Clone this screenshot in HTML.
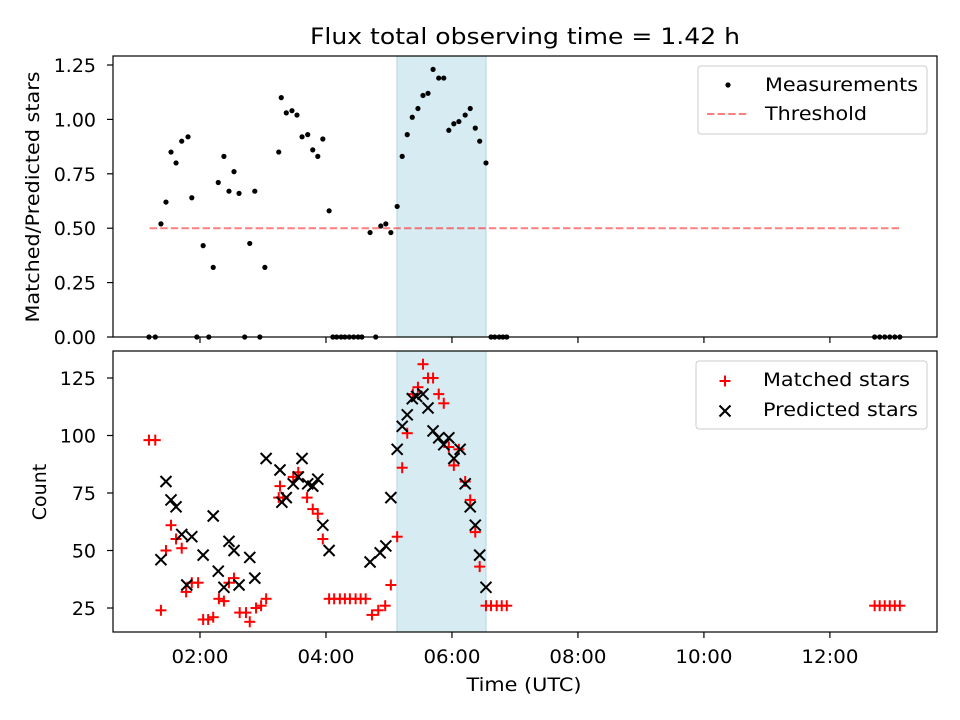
<!DOCTYPE html>
<html><head><meta charset="utf-8"><style>
html,body{margin:0;padding:0;background:#fff;}
svg{display:block;font-family:"DejaVu Sans","Liberation Sans",sans-serif;}
</style></head><body>
<svg id="chart" width="960" height="720" viewBox="0 0 960 720"></svg>
<script>
// ---- data (time in hours UTC) ----
const measTimes=[1.19,1.29,1.38,1.46,1.54,1.62,1.71,1.81,1.87,1.95,2.05,2.14,2.21,2.29,2.38,2.46,2.54,2.62,2.71,2.79,2.87,2.95,3.03,3.25,3.29,3.37,3.46,3.54,3.62,3.71,3.79,3.87,3.95,4.05,4.11,4.17,4.24,4.30,4.37,4.44,4.51,4.57,4.70,4.79,4.87,4.95,5.03,5.13,5.21,5.29,5.37,5.46,5.54,5.62,5.70,5.79,5.87,5.95,6.03,6.11,6.21,6.29,6.37,6.44,6.54,6.62,6.68,6.75,6.81,6.87,12.71,12.79,12.87,12.95,13.03,13.11];
const measRatios=[0,0,0.52,0.62,0.85,0.80,0.90,0.92,0.64,0,0.42,0,0.32,0.71,0.83,0.67,0.76,0.66,0,0.43,0.67,0,0.32,0.85,1.10,1.03,1.04,1.02,0.92,0.93,0.86,0.83,0.91,0.58,0,0,0,0,0,0,0,0,0.48,0,0.51,0.52,0.48,0.60,0.83,0.93,1.01,1.05,1.11,1.12,1.23,1.19,1.19,0.95,0.98,0.99,1.02,1.05,0.96,0.90,0.80,0,0,0,0,0,0,0,0,0,0,0];
const thresholdValue=0.5;
const thresholdRange=[1.2,13.13];
const matchedTimes=[1.19,1.29,1.38,1.46,1.54,1.62,1.71,1.78,1.87,1.97,2.05,2.13,2.21,2.30,2.38,2.46,2.54,2.63,2.73,2.79,2.89,2.97,3.05,3.25,3.27,3.32,3.48,3.56,3.70,3.79,3.87,3.95,4.05,4.13,4.22,4.30,4.38,4.47,4.55,4.63,4.73,4.83,4.94,5.03,5.13,5.21,5.29,5.38,5.46,5.54,5.62,5.70,5.79,5.87,5.95,6.03,6.11,6.21,6.29,6.37,6.44,6.54,6.62,6.71,6.79,6.87,12.71,12.79,12.87,12.95,13.03,13.11];
const matchedCounts=[98,98,24,50,61,55,51,32,36,36,20,20,21,29,28,36,38,23,23,19,25,26,29,73,78,73,82,84,73,68,66,55,29,29,29,29,29,29,29,29,22,24,26,35,56,86,101,118,121,131,125,125,118,114,95,87,94,80,72,58,43,26,26,26,26,26,26,26,26,26,26,26];
const predTimes=[1.38,1.46,1.54,1.62,1.71,1.79,1.87,2.05,2.21,2.29,2.38,2.46,2.54,2.62,2.79,2.87,3.05,3.27,3.30,3.37,3.48,3.56,3.62,3.71,3.79,3.87,3.95,4.05,4.70,4.86,4.95,5.03,5.13,5.21,5.29,5.37,5.44,5.54,5.62,5.70,5.79,5.87,5.95,6.03,6.13,6.21,6.29,6.37,6.44,6.54];
const predCounts=[46,80,72,69,57,35,56,48,65,41,34,54,50,35,47,38,90,85,71,73,79,82,90,79,78,81,61,50,45,49,52,73,94,104,109,116,117,118,112,102,99,96,99,90,94,79,69,61,48,34];
const spanRange=[5.127,6.54];
const xTickHours=[2,4,6,8,10,12];
const xTickLabels=["02:00","04:00","06:00","08:00","10:00","12:00"];
const topTicks=[0,0.25,0.5,0.75,1.0,1.25];
const topTickLabels=["0.00","0.25","0.50","0.75","1.00","1.25"];
const botTicks=[25,50,75,100,125];
const botTickLabels=["25","50","75","100","125"];

const NS="http://www.w3.org/2000/svg";
const svg=document.getElementById('chart');
function mk(tag,attrs,parent){const e=document.createElementNS(NS,tag);for(const k in attrs)e.setAttribute(k,attrs[k]);(parent||svg).appendChild(e);return e;}

const L=113,R=937,T1=56,B1=337,T2=351,B2=632;
const X0=0.619,X1=13.70;
function xs(h){return L+(h-X0)/(X1-X0)*(R-L);}
function yTop(v){return B1-(v-0)/(1.2914-0)*(B1-T1);}
function yBot(v){return B2-(v-14.57)/(136.74-14.57)*(B2-T2);}

function plus(cx,cy,s,col,parent,name){const g=mk('g',{},parent);


mk('line',{x1:cx-s,y1:cy,x2:cx+s,y2:cy,stroke:col,'stroke-width':2},g);
mk('line',{x1:cx,y1:cy-s,x2:cx,y2:cy+s,stroke:col,'stroke-width':2},g);return g;}
function cross(cx,cy,s,col,parent,name){const g=mk('g',{},parent);


mk('line',{x1:cx-s,y1:cy-s,x2:cx+s,y2:cy+s,stroke:col,'stroke-width':2},g);
mk('line',{x1:cx-s,y1:cy+s,x2:cx+s,y2:cy-s,stroke:col,'stroke-width':2},g);return g;}

// title
const title=mk('text',{x:525,y:44,'text-anchor':'middle','font-size':22,fill:'#000',textLength:430,lengthAdjust:'spacingAndGlyphs'});
title.textContent='Flux total observing time = 1.42 h';



function panel(T,B,name){
  const g=mk('g',{});
  
  
  const sp=mk('rect',{x:xs(spanRange[0]),y:T,width:xs(spanRange[1])-xs(spanRange[0]),height:B-T,fill:'#add8e6','fill-opacity':0.5,stroke:'#add8e6','stroke-width':1},g);
  
  
  return g;
}
// ---- top panel ----
const gTop=panel(T1,B1,'ratio-panel');
const th=mk('line',{x1:xs(thresholdRange[0]),x2:xs(thresholdRange[1]),y1:yTop(thresholdValue),y2:yTop(thresholdValue),stroke:'#ff0000','stroke-opacity':0.5,'stroke-width':2,'stroke-dasharray':'7.4,3.2'},gTop);


measTimes.forEach((t,i)=>{const c=mk('circle',{cx:xs(t),cy:yTop(measRatios[i]),r:2.6,fill:'#000'},gTop);

});

// ---- bottom panel ----
const gBot=panel(T2,B2,'count-panel');
matchedTimes.forEach((t,i)=>{plus(xs(t),yBot(matchedCounts[i]),5.5,'#ff0000',gBot,'matched-point');});
predTimes.forEach((t,i)=>{cross(xs(t),yBot(predCounts[i]),5.5,'#000',gBot,'predicted-point');});

// frames and axes
[[T1,B1,'ratio-axes-frame'],[T2,B2,'count-axes-frame']].forEach(([T,B,n])=>{
  const r=mk('rect',{x:L,y:T,width:R-L,height:B-T,fill:'none',stroke:'#000','stroke-width':1.2});
  
  
  xTickHours.forEach(h=>{mk('line',{x1:xs(h),x2:xs(h),y1:B,y2:B+6,stroke:'#000','stroke-width':1.2});});
});
xTickHours.forEach((h,i)=>{const t=mk('text',{x:xs(h),y:663,'text-anchor':'middle','font-size':19,textLength:57,lengthAdjust:'spacingAndGlyphs'});t.textContent=xTickLabels[i];

});
topTicks.forEach((v,i)=>{mk('line',{x1:L-6,x2:L,y1:yTop(v),y2:yTop(v),stroke:'#000','stroke-width':1.2});
const t=mk('text',{x:L-17,y:yTop(v)+7,'text-anchor':'end','font-size':19});t.textContent=topTickLabels[i];

});
botTicks.forEach((v,i)=>{mk('line',{x1:L-6,x2:L,y1:yBot(v),y2:yBot(v),stroke:'#000','stroke-width':1.2});
const t=mk('text',{x:L-17,y:yBot(v)+7,'text-anchor':'end','font-size':19});t.textContent=botTickLabels[i];

});

const xl=mk('text',{x:524,y:691,'text-anchor':'middle','font-size':19,textLength:115,lengthAdjust:'spacingAndGlyphs'});xl.textContent='Time (UTC)';


const yl1=mk('text',{x:0,y:0,'text-anchor':'middle','font-size':19,textLength:251,lengthAdjust:'spacingAndGlyphs',transform:'translate(39,197) rotate(-90)'});yl1.textContent='Matched/Predicted stars';


const yl2=mk('text',{x:0,y:0,'text-anchor':'middle','font-size':19,transform:'translate(46,492) rotate(-90)'});yl2.textContent='Count';



// legends
const lg1=mk('g',{});


mk('rect',{x:698,y:66,width:229,height:68,rx:3,fill:'#fff','fill-opacity':0.8,stroke:'#ccc'},lg1);
mk('circle',{cx:728,cy:85,r:2.6,fill:'#000'},lg1);
let t=mk('text',{x:765,y:91,'font-size':19,textLength:153,lengthAdjust:'spacingAndGlyphs'},lg1);t.textContent='Measurements';
mk('line',{x1:707,x2:749,y1:114,y2:114,stroke:'#ff0000','stroke-opacity':0.5,'stroke-width':2,'stroke-dasharray':'7.4,3.2'},lg1);
t=mk('text',{x:765,y:120,'font-size':19,textLength:102,lengthAdjust:'spacingAndGlyphs'},lg1);t.textContent='Threshold';

const lg2=mk('g',{});


mk('rect',{x:696,y:361,width:231,height:68,rx:3,fill:'#fff','fill-opacity':0.8,stroke:'#ccc'},lg2);
plus(725,381,5.5,'#ff0000',lg2,'legend-matched-marker');
t=mk('text',{x:763,y:386,'font-size':19,textLength:147,lengthAdjust:'spacingAndGlyphs'},lg2);t.textContent='Matched stars';
cross(725,411,5.5,'#000',lg2,'legend-predicted-marker');
t=mk('text',{x:763,y:416,'font-size':19,textLength:155,lengthAdjust:'spacingAndGlyphs'},lg2);t.textContent='Predicted stars';
</script>
</body></html>
